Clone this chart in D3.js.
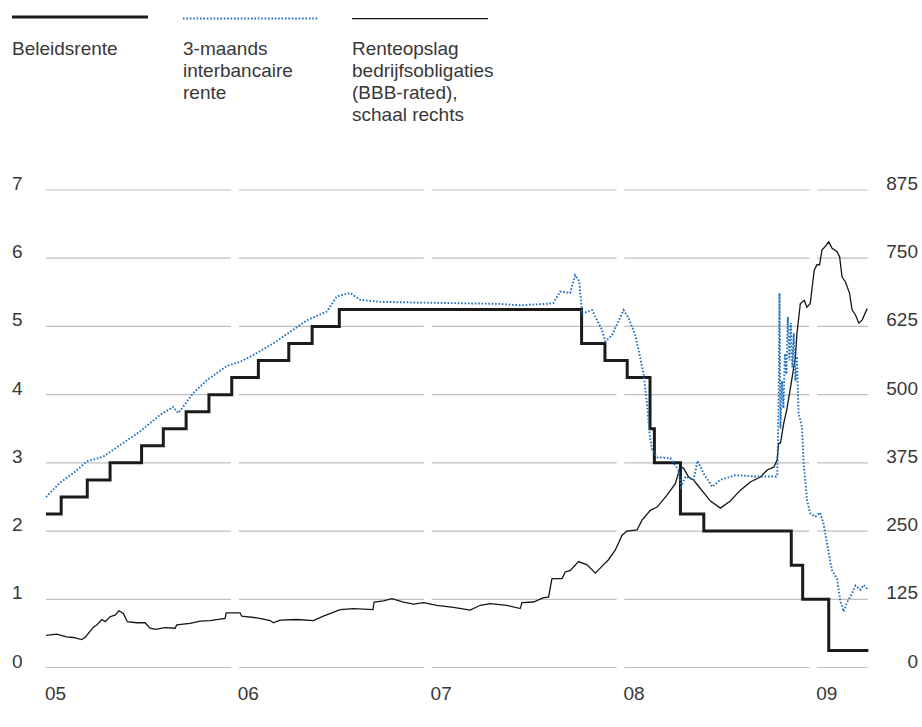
<!DOCTYPE html>
<html>
<head>
<meta charset="utf-8">
<script src="https://cdn.jsdelivr.net/npm/d3@7"></script>
<style>
  body { margin: 0; background: #fff; }
  text { font-family: "Liberation Sans", Arial, sans-serif; fill: #383838; }
  .tick-label { font-size: 19px; }
  .legend { font-size: 19px; }
</style>
</head>
<body>
<div id="rates_container"></div>
<script>
// year labels on the bottom axis
const yearLabels = ["05", "06", "07", "08", "09"];
const leftTicks = [0, 1, 2, 3, 4, 5, 6, 7];
const rightTicks = [0, 125, 250, 375, 500, 625, 750, 875];

// Beleidsrente (step changes, %)
const policyDates = [
  "2005-01-05", "2005-02-02", "2005-03-22", "2005-05-03", "2005-06-30",
  "2005-08-09", "2005-09-20", "2005-11-01", "2005-12-13", "2006-01-31",
  "2006-03-28", "2006-05-10", "2006-06-29", "2007-09-18", "2007-10-31",
  "2007-12-11", "2008-01-22", "2008-01-30", "2008-03-18", "2008-04-30",
  "2008-10-08", "2008-10-29", "2008-12-16", "2009-02-27"
];
const policyRates = [
  2.25, 2.5, 2.75, 3.0, 3.25, 3.5, 3.75, 4.0, 4.25, 4.5, 4.75, 5.0, 5.25,
  4.75, 4.5, 4.25, 3.5, 3.0, 2.25, 2.0, 1.5, 1.0, 0.25, 0.25
];

// 3-maands interbancaire rente: [year fraction, %]
const liborPoints = [
  [2005.011, 2.50], [2005.082, 2.71], [2005.149, 2.85], [2005.216, 3.02],
  [2005.299, 3.09], [2005.399, 3.29], [2005.485, 3.46], [2005.585, 3.70],
  [2005.652, 3.82], [2005.677, 3.73], [2005.702, 3.82], [2005.752, 4.02],
  [2005.821, 4.21], [2005.922, 4.42], [2005.989, 4.48], [2006.055, 4.58],
  [2006.156, 4.75], [2006.257, 4.95], [2006.326, 5.09], [2006.427, 5.22],
  [2006.477, 5.44], [2006.544, 5.49], [2006.595, 5.39], [2006.695, 5.36],
  [2006.897, 5.35], [2007.099, 5.34], [2007.300, 5.33], [2007.401, 5.31],
  [2007.527, 5.33], [2007.567, 5.34], [2007.603, 5.51], [2007.653, 5.49],
  [2007.678, 5.75], [2007.699, 5.66], [2007.713, 5.19], [2007.763, 5.24],
  [2007.813, 4.95], [2007.830, 4.78], [2007.864, 4.87], [2007.922, 5.24],
  [2007.948, 5.12], [2007.981, 4.87], [2007.998, 4.65], [2008.023, 4.31],
  [2008.040, 3.87], [2008.053, 3.43], [2008.065, 3.19], [2008.091, 3.08],
  [2008.158, 3.07], [2008.200, 2.89], [2008.212, 2.65], [2008.234, 2.80],
  [2008.275, 2.75], [2008.295, 3.03], [2008.324, 2.85], [2008.369, 2.65],
  [2008.409, 2.75], [2008.485, 2.82], [2008.586, 2.80], [2008.692, 2.80],
  [2008.697, 2.82], [2008.704, 4.00], [2008.708, 5.49], [2008.713, 3.50],
  [2008.720, 4.20], [2008.728, 3.80], [2008.735, 4.60], [2008.743, 4.30],
  [2008.750, 5.14], [2008.758, 4.50], [2008.765, 5.05], [2008.773, 4.40],
  [2008.780, 4.90], [2008.788, 4.20], [2008.796, 4.56], [2008.804, 3.73],
  [2008.821, 3.53], [2008.830, 2.99], [2008.847, 2.45], [2008.863, 2.26],
  [2008.888, 2.21], [2008.913, 2.27], [2008.930, 2.11], [2008.950, 1.77],
  [2008.972, 1.43], [2008.998, 1.30], [2009.014, 0.99], [2009.031, 0.82],
  [2009.048, 0.95], [2009.074, 1.09], [2009.091, 1.20], [2009.116, 1.14],
  [2009.132, 1.21], [2009.150, 1.15], [2009.158, 1.16]
];

// Renteopslag bedrijfsobligaties BBB: [year fraction, basispunten]
const spreadPoints = [
  [2005.011, 59], [2005.065, 61], [2005.115, 56], [2005.149, 55], [2005.191, 51],
  [2005.208, 55], [2005.250, 74], [2005.267, 78], [2005.292, 88], [2005.309, 84],
  [2005.334, 93], [2005.359, 96], [2005.379, 104], [2005.401, 99], [2005.421, 84],
  [2005.468, 82], [2005.510, 82], [2005.536, 72], [2005.561, 70], [2005.611, 73],
  [2005.662, 72], [2005.670, 78], [2005.737, 81], [2005.788, 85], [2005.838, 86],
  [2005.880, 88], [2005.914, 90], [2005.919, 100], [2005.989, 100], [2005.998, 94],
  [2006.074, 91], [2006.141, 86], [2006.157, 82], [2006.191, 87], [2006.275, 88],
  [2006.359, 86], [2006.409, 94], [2006.494, 106], [2006.561, 108], [2006.659, 106],
  [2006.665, 120], [2006.712, 122], [2006.754, 126], [2006.813, 120], [2006.863, 116],
  [2006.914, 119], [2006.981, 114], [2007.065, 110], [2007.149, 105], [2007.200, 114],
  [2007.250, 117], [2007.334, 114], [2007.401, 108], [2007.410, 119], [2007.468, 120],
  [2007.519, 128], [2007.544, 129], [2007.561, 163], [2007.612, 163], [2007.628, 175],
  [2007.654, 178], [2007.695, 194], [2007.738, 188], [2007.780, 173], [2007.820, 188],
  [2007.845, 197], [2007.880, 215], [2007.914, 242], [2007.939, 250], [2007.990, 252],
  [2008.015, 270], [2008.057, 288], [2008.091, 294], [2008.141, 316], [2008.183, 337],
  [2008.208, 368], [2008.225, 365], [2008.250, 349], [2008.276, 343], [2008.309, 328],
  [2008.360, 305], [2008.410, 292], [2008.460, 305], [2008.511, 325], [2008.561, 340],
  [2008.612, 349], [2008.646, 362], [2008.679, 367], [2008.696, 380], [2008.704, 411],
  [2008.713, 411], [2008.729, 447], [2008.746, 475], [2008.767, 521], [2008.788, 569],
  [2008.796, 612], [2008.813, 667], [2008.833, 673], [2008.846, 660], [2008.863, 667],
  [2008.883, 728], [2008.897, 738], [2008.910, 738], [2008.922, 765], [2008.944, 774],
  [2008.956, 780], [2008.973, 768], [2008.998, 762], [2009.011, 753], [2009.023, 716],
  [2009.040, 707], [2009.061, 686], [2009.074, 655], [2009.091, 646], [2009.108, 631],
  [2009.125, 637], [2009.150, 658]
];

const legendItems = [
  { lines: ["Beleidsrente"], style: "policy" },
  { lines: ["3-maands", "interbancaire", "rente"], style: "libor" },
  { lines: ["Renteopslag", "bedrijfsobligaties", "(BBB-rated),", "schaal rechts"], style: "spread" }
];

const yearToDate = (t) =>
  new Date(new Date(2005, 0, 1).getTime() + (t - 2005) * 365.25 * 86400000);

class RateChart {
  constructor(containerId) {
    this.containerId = containerId;
    this.width = 922;
    this.height = 727;
    this.plot = { left: 43.8, right: 868.4, top: 190, bottom: 667.5 };
    this.styles = {
      policy: { stroke: "#1b1b1b", width: 3, dash: null },
      libor: { stroke: "#1f6fbf", width: 1.9, dash: "1.6 1.8" },
      spread: { stroke: "#151515", width: 1.3, dash: null }
    };
  }

  createSVG() {
    this.svg = d3
      .select(`#${this.containerId}`)
      .append("svg")
      .attr("width", this.width)
      .attr("height", this.height);
  }

  createScales() {
    const parse = d3.timeParse("%Y-%m-%d");
    this.policyData = policyDates.map((d, i) => ({ date: parse(d), value: policyRates[i] }));
    this.xScale = d3
      .scaleTime()
      .domain([new Date(2005, 0, 1), new Date(2009, 1, 27)])
      .range([this.plot.left, this.plot.right]);
    this.yScale = d3
      .scaleLinear()
      .domain([0, 7])
      .range([this.plot.bottom, this.plot.top]);
    this.yRight = d3
      .scaleLinear()
      .domain([0, 875])
      .range([this.plot.bottom, this.plot.top]);
    // label bands along the bottom, as set out in the original
    this.yearBand = d3
      .scaleBand()
      .domain(yearLabels)
      .range([46, 46 + 5 * 192.8]);
  }

  createGridLines() {
    const g = this.svg.append("g").attr("class", "grid");
    const segEnd = (lab) =>
      Math.min(this.yearBand(lab) + this.yearBand.bandwidth() - 7.8, this.plot.right - 0.6);
    leftTicks.forEach((t) => {
      g.selectAll(null)
        .data(yearLabels)
        .join("line")
        .attr("x1", (d) => this.yearBand(d))
        .attr("x2", (d) => segEnd(d))
        .attr("y1", this.yScale(t))
        .attr("y2", this.yScale(t))
        .attr("stroke", "#bfbfbf")
        .attr("stroke-width", 1.2);
    });
  }

  createAxes() {
    this.svg
      .append("g")
      .selectAll("text")
      .data(leftTicks)
      .join("text")
      .attr("class", "tick-label")
      .attr("x", 12)
      .attr("y", (d) => this.yScale(d))
      .attr("text-anchor", "start")
      .text((d) => d);

    this.svg
      .append("g")
      .selectAll("text")
      .data(rightTicks)
      .join("text")
      .attr("class", "tick-label")
      .attr("x", 918)
      .attr("y", (d) => this.yRight(d))
      .attr("text-anchor", "end")
      .text((d) => d);

    this.svg
      .append("g")
      .selectAll("text")
      .data(yearLabels)
      .join("text")
      .attr("class", "tick-label")
      .attr("x", (d) => this.yearBand(d) - 1)
      .attr("y", 700)
      .attr("text-anchor", "start")
      .text((d) => d);
  }

  drawLine(data, xAcc, yAcc, style, curve) {
    const s = this.styles[style];
    this.svg
      .append("path")
      .datum(data)
      .attr("fill", "none")
      .attr("stroke", s.stroke)
      .attr("stroke-width", s.width)
      .attr("stroke-dasharray", s.dash)
      .attr("stroke-linejoin", "miter")
      .attr("d", d3.line().x(xAcc).y(yAcc).curve(curve));
  }

  createLines() {
    this.drawLine(
      this.policyData,
      (d) => this.xScale(d.date),
      (d) => this.yScale(d.value),
      "policy",
      d3.curveStepAfter
    );
    this.drawLine(
      spreadPoints,
      (d) => this.xScale(yearToDate(d[0])),
      (d) => this.yRight(d[1]),
      "spread",
      d3.curveLinear
    );
    this.drawLine(
      liborPoints,
      (d) => this.xScale(yearToDate(d[0])),
      (d) => this.yScale(d[1]),
      "libor",
      d3.curveLinear
    );
  }

  createLegend() {
    const xs = [12, 183, 352];
    const lineY = [17, 18.5, 18.7];
    const g = this.svg.append("g").attr("class", "legend-group");
    legendItems.forEach((item, i) => {
      const s = this.styles[item.style];
      g.append("line")
        .attr("x1", xs[i])
        .attr("x2", xs[i] + 136)
        .attr("y1", lineY[i])
        .attr("y2", lineY[i])
        .attr("stroke", s.stroke)
        .attr("stroke-width", item.style === "libor" ? 2 : s.width)
        .attr("stroke-dasharray", s.dash);
      g.selectAll(null)
        .data(item.lines)
        .join("text")
        .attr("class", "legend")
        .attr("x", xs[i])
        .attr("y", (d, j) => 55 + j * 22)
        .text((d) => d);
    });
  }

  render() {
    this.createSVG();
    this.createScales();
    this.createGridLines();
    this.createAxes();
    this.createLines();
    this.createLegend();
  }
}

const rateChart = new RateChart("rates_container");
rateChart.render();
</script>
</body>
</html>
